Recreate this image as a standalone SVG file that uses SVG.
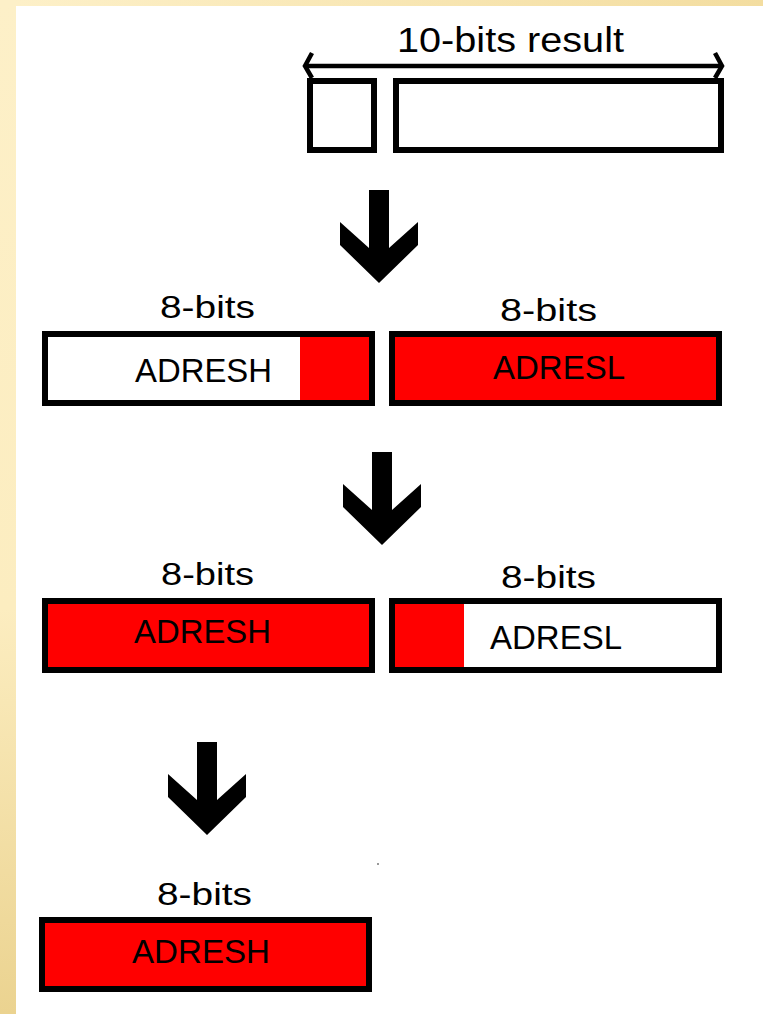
<svg xmlns="http://www.w3.org/2000/svg" width="763" height="1014" viewBox="0 0 763 1014">
  <defs>
    <linearGradient id="leftStrip" x1="0" y1="0" x2="0" y2="1">
      <stop offset="0" stop-color="#FDF0C8"/>
      <stop offset="0.6" stop-color="#FCEDC0"/>
      <stop offset="1" stop-color="#EBD390"/>
    </linearGradient>
    <linearGradient id="topStrip" x1="0" y1="0" x2="1" y2="0">
      <stop offset="0" stop-color="#FDF0C8"/>
      <stop offset="1" stop-color="#F3DDA0"/>
    </linearGradient>
    <path id="bigArrow" d="M-10,0 L10,0 L10,58 L39,32 L39,55 L0,93 L-39,55 L-39,32 L-10,58 Z"/>
  </defs>
  <style>
    .box { stroke: #000; stroke-width: 6; fill: #fff; }
    .red { fill: #FF0000; }
    .lbl { font-family: "Liberation Sans", Arial, sans-serif; fill: #000; }
    .bits { font-size: 32px; }
    .reg { font-size: 33px; }
    .title { font-size: 35px; }
    .dim { stroke: #000; stroke-width: 4.5; fill: none; }
    .arrow { fill: #000; }
  </style>

  <!-- background -->
  <rect x="0" y="0" width="763" height="1014" fill="url(#leftStrip)"/>
  <rect x="16" y="0" width="747" height="6" fill="url(#topStrip)"/>
  <rect x="16" y="6" width="747" height="1008" fill="#fff"/>

  <!-- top: 10-bit result -->
  <g id="result10">
    <text class="lbl title" x="397" y="52" textLength="227" lengthAdjust="spacingAndGlyphs">10-bits result</text>
    <line class="dim" x1="306" y1="66" x2="721" y2="66"/>
    <polyline class="dim" points="312,53 305,66 312,78"/>
    <polyline class="dim" points="715,53 722,66 715,78"/>
    <rect class="box" x="310" y="81" width="64" height="69"/>
    <rect class="box" x="396" y="81" width="325" height="69"/>
  </g>

  <!-- row 1 -->
  <g id="row1-adresh">
    <text class="lbl bits" x="160" y="318" textLength="95" lengthAdjust="spacingAndGlyphs">8-bits</text>
    <rect class="box" x="45" y="334" width="327" height="69"/>
    <rect class="red" x="300" y="337" width="69" height="63"/>
    <text class="lbl reg" x="135" y="382" textLength="137" lengthAdjust="spacingAndGlyphs">ADRESH</text>
  </g>
  <g id="row1-adresl">
    <text class="lbl bits" x="500" y="321" textLength="97" lengthAdjust="spacingAndGlyphs">8-bits</text>
    <rect class="box red" x="392" y="334" width="327" height="69" style="fill:#FF0000"/>
    <text class="lbl reg" x="493" y="379" textLength="132" lengthAdjust="spacingAndGlyphs">ADRESL</text>
  </g>

  <!-- row 2 -->
  <g id="row2-adresh">
    <text class="lbl bits" x="161" y="585" textLength="93" lengthAdjust="spacingAndGlyphs">8-bits</text>
    <rect class="box" x="45" y="601" width="327" height="69" style="fill:#FF0000"/>
    <text class="lbl reg" x="134" y="643" textLength="137" lengthAdjust="spacingAndGlyphs">ADRESH</text>
  </g>
  <g id="row2-adresl">
    <text class="lbl bits" x="501" y="588" textLength="95" lengthAdjust="spacingAndGlyphs">8-bits</text>
    <rect class="box" x="392" y="601" width="327" height="69"/>
    <rect class="red" x="395" y="604" width="69" height="63"/>
    <text class="lbl reg" x="490" y="649" textLength="132" lengthAdjust="spacingAndGlyphs">ADRESL</text>
  </g>

  <!-- row 3 -->
  <g id="row3-adresh">
    <text class="lbl bits" x="157" y="905" textLength="95" lengthAdjust="spacingAndGlyphs">8-bits</text>
    <rect class="box" x="42" y="920" width="327" height="69" style="fill:#FF0000"/>
    <text class="lbl reg" x="132" y="963" textLength="138" lengthAdjust="spacingAndGlyphs">ADRESH</text>
  </g>

  <!-- connectors -->
  <g id="connectors">
    <use href="#bigArrow" class="arrow" transform="translate(379,190)"/>
    <use href="#bigArrow" class="arrow" transform="translate(382,452)"/>
    <use href="#bigArrow" class="arrow" transform="translate(207,742)"/>
  </g>

  <rect x="377" y="863" width="2" height="2" fill="#999"/>
</svg>
